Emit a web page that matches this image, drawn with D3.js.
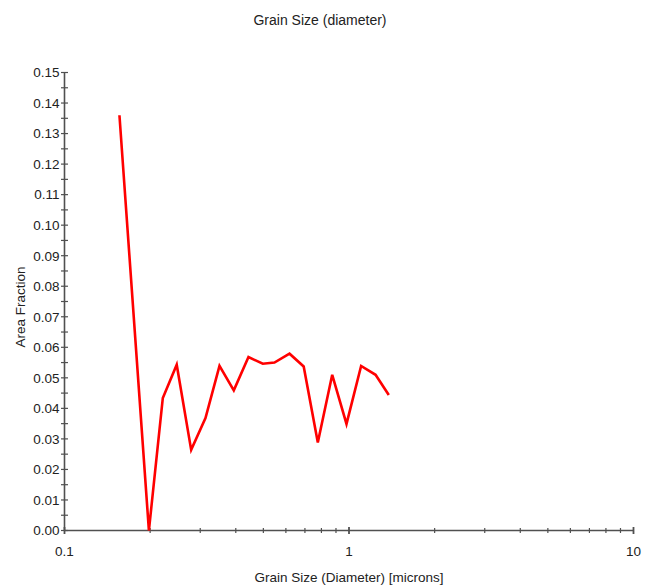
<!DOCTYPE html>
<html>
<head>
<meta charset="utf-8">
<script src="https://cdn.jsdelivr.net/npm/d3@7"></script>
<style>
  html, body { margin: 0; padding: 0; background: #fff; }
  svg { display: block; }
  text { font-family: "Liberation Sans", Arial, sans-serif; fill: #222; }
</style>
</head>
<body>
<svg id="chart" width="655" height="587"></svg>
<script>
// ---- data ----
const grainSize = [0.156, 0.198, 0.2216, 0.248, 0.2788, 0.313, 0.3506, 0.3936, 0.4433, 0.4977, 0.547, 0.618, 0.693, 0.777, 0.873, 0.98, 1.103, 1.24, 1.38];
const areaFraction = [0.136, 0.000, 0.0434, 0.0543, 0.0264, 0.0368, 0.0539, 0.0459, 0.0568, 0.0546, 0.0550, 0.0579, 0.0537, 0.0288, 0.0510, 0.0349, 0.0539, 0.0510, 0.0444];
const xMajorTicks = [0.1, 1, 10];
const xMinorTicks = [0.2, 0.3, 0.4, 0.5, 0.6, 0.7, 0.8, 0.9, 2, 3, 4, 5, 6, 7, 8, 9];
const yTicks = [0, 0.01, 0.02, 0.03, 0.04, 0.05, 0.06, 0.07, 0.08, 0.09, 0.10, 0.11, 0.12, 0.13, 0.14, 0.15];
const yMinorTicks = [0.005, 0.015, 0.025, 0.035, 0.045, 0.055, 0.065, 0.075, 0.085, 0.095, 0.105, 0.115, 0.125, 0.135, 0.145];
const titleText = "Grain Size (diameter)";
const xLabelText = "Grain Size (Diameter) [microns]";
const yLabelText = "Area Fraction";

// ---- layout ----
const svg = d3.select("#chart");
const L = 64.5, R = 633.5, T = 72.5, B = 530.5;
const x = d3.scaleLog().domain([0.1, 10]).range([L, R]);
const y = d3.scaleLinear().domain([0, 0.15]).range([B, T]);
const axisColor = "#505050";

// title
svg.append("text").attr("x", 320).attr("y", 25).attr("text-anchor", "middle")
  .style("font-size", "14px").text(titleText);

// x axis
const gx = svg.append("g").attr("transform", `translate(0,${B})`);
gx.append("line").attr("x1", L).attr("x2", R).attr("stroke", axisColor).attr("stroke-width", 1.6);
gx.selectAll("line.minor").data(xMinorTicks).join("line").attr("class", "minor")
  .attr("x1", d => x(d)).attr("x2", d => x(d)).attr("y1", -2.5).attr("y2", 2.5)
  .attr("stroke", axisColor).attr("stroke-width", 1.2);
gx.selectAll("line.major").data(xMajorTicks).join("line").attr("class", "major")
  .attr("x1", d => x(d)).attr("x2", d => x(d)).attr("y1", -3.5).attr("y2", 3.5)
  .attr("stroke", axisColor).attr("stroke-width", 1.8);
gx.selectAll("text").data(xMajorTicks).join("text")
  .attr("x", d => x(d)).attr("y", 25).attr("text-anchor", "middle")
  .style("font-size", "13.5px").text(d => d3.format("~g")(d));

// y axis
const gy = svg.append("g").attr("transform", `translate(${L},0)`);
gy.append("line").attr("y1", T).attr("y2", B).attr("stroke", axisColor).attr("stroke-width", 1.6);
gy.selectAll("line.t").data(yTicks.concat(yMinorTicks)).join("line").attr("class", "t")
  .attr("y1", d => y(d)).attr("y2", d => y(d)).attr("x1", -3.5).attr("x2", 3.5)
  .attr("stroke", axisColor).attr("stroke-width", 1.2);
gy.selectAll("text").data(yTicks).join("text")
  .attr("x", -5).attr("y", d => y(d)).attr("dy", "0.36em").attr("text-anchor", "end")
  .style("font-size", "13.5px").text(d => d3.format(".2f")(d));

// axis labels
svg.append("text").attr("x", 349).attr("y", 582).attr("text-anchor", "middle")
  .style("font-size", "13.5px").text(xLabelText);
svg.append("text").attr("transform", "translate(25,307) rotate(-90)").attr("text-anchor", "middle")
  .style("font-size", "13.5px").text(yLabelText);

// line
const line = d3.line().x(d => x(d[0])).y(d => y(d[1]));
svg.append("path").datum(d3.zip(grainSize, areaFraction))
  .attr("d", line).attr("fill", "none").attr("stroke", "#ff0000")
  .attr("stroke-width", 2.6).attr("stroke-linejoin", "miter");
</script>
</body>
</html>
